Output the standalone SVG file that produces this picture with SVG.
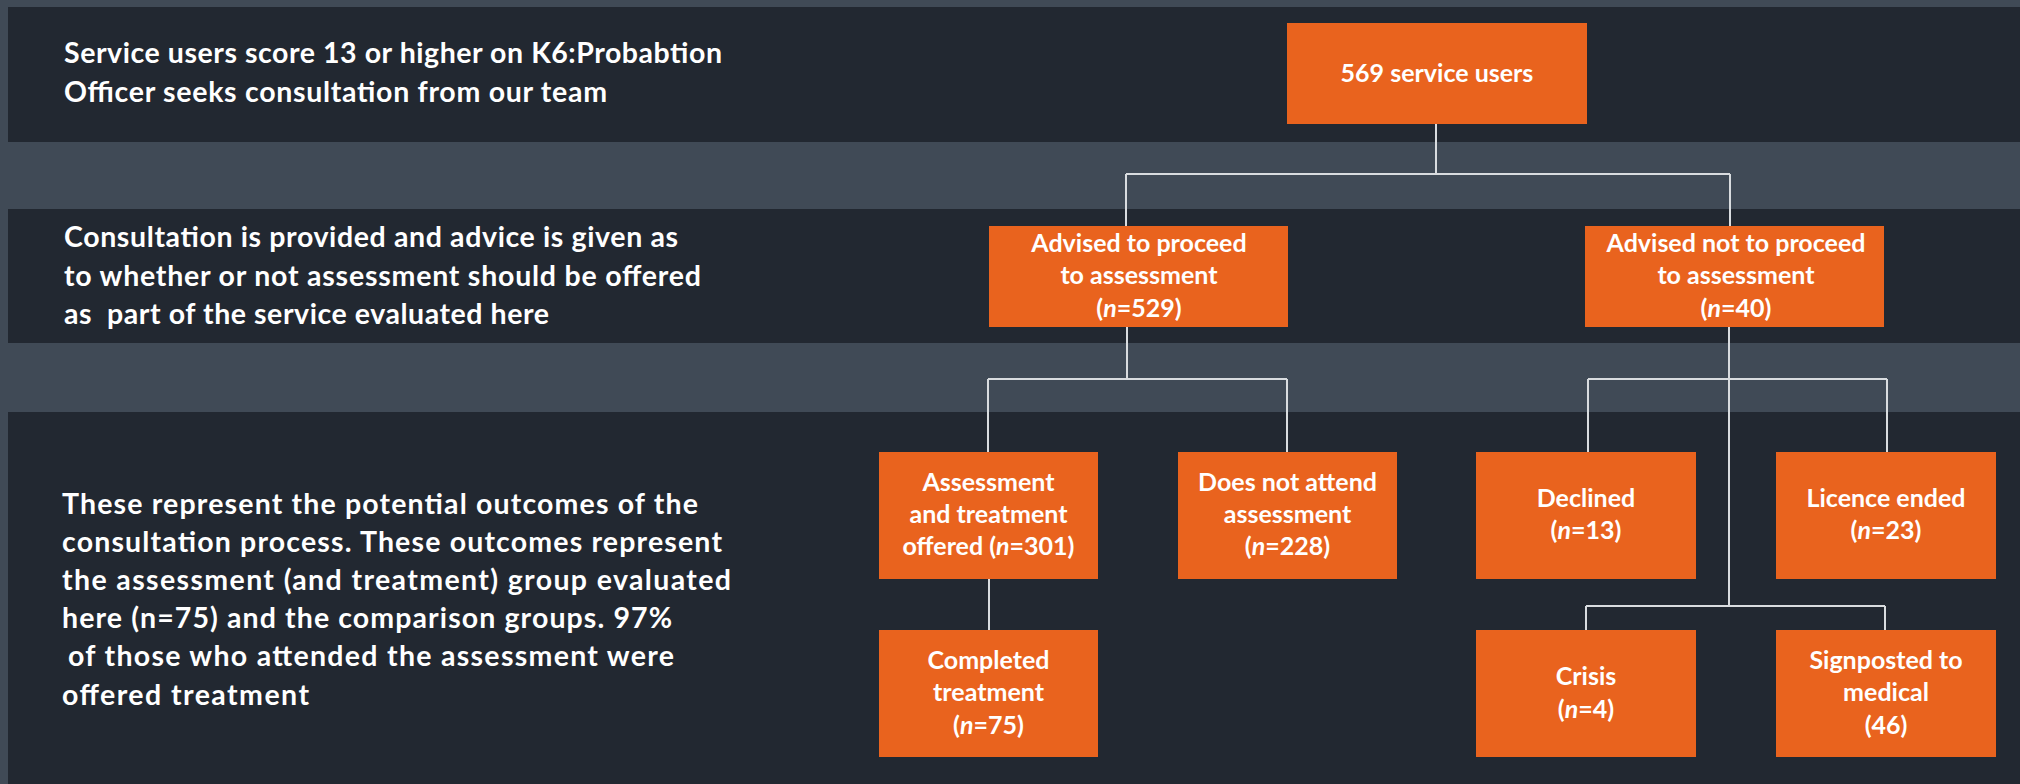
<svg xmlns="http://www.w3.org/2000/svg" width="2020" height="784" viewBox="0 0 2020 784">
<style>
.band{fill:#222831}
.box{fill:#e9631e}
.lt{font-family:Lato,"Open Sans","DejaVu Sans",sans-serif;font-weight:700;font-size:28.5px;fill:#ffffff}
.bt{font-family:Lato,"Open Sans","DejaVu Sans",sans-serif;font-weight:700;font-size:25px;fill:#ffffff;text-anchor:middle}
.it{font-style:italic}
.conn{fill:none;stroke:#d9dcdf;stroke-width:2}
</style>
<rect x="0" y="0" width="2020" height="784" fill="#404a56"/>
<g id="bands">
<rect class="band" x="8" y="7" width="2012" height="135"/>
<rect class="band" x="8" y="209" width="2012" height="134"/>
<rect class="band" x="8" y="412" width="2012" height="372"/>
</g>
<g id="labels">
<text class="lt" x="64" y="63" textLength="658">Service users score 13 or higher on K6:Probabtion</text>
<text class="lt" x="64" y="102" textLength="543">Officer seeks consultation from our team</text>
<text class="lt" x="64" y="247" textLength="614">Consultation is provided and advice is given as</text>
<text class="lt" x="64" y="286" textLength="637">to whether or not assessment should be offered</text>
<text class="lt" x="64" y="324" textLength="485" xml:space="preserve">as  part of the service evaluated here</text>
<text class="lt" x="62" y="514" textLength="636">These represent the potential outcomes of the</text>
<text class="lt" x="62" y="552" textLength="660">consultation process. These outcomes represent</text>
<text class="lt" x="62" y="590" textLength="669">the assessment (and treatment) group evaluated</text>
<text class="lt" x="62" y="628" textLength="610">here (n=75) and the comparison groups. 97%</text>
<text class="lt" x="68" y="666" textLength="606">of those who attended the assessment were</text>
<text class="lt" x="62" y="705" textLength="247">offered treatment</text>
</g>
<g id="connectors">
<path class="conn" d="M1436 124V174M1126 174H1730M1126 174V226M1730 174V226"/>
<path class="conn" d="M1127 327V379M988 379H1287M988 379V452M1287 379V452"/>
<path class="conn" d="M1729 327V606M1588 379H1887M1588 379V452M1887 379V452"/>
<path class="conn" d="M1586 606H1885M1586 606V630M1885 606V630"/>
<path class="conn" d="M989 579V630"/>
</g>
<g id="node-root">
<rect class="box" x="1287" y="23" width="300" height="101"/>
<text class="bt" x="1437" y="82">569 service users</text>
</g>
<g id="node-proceed">
<rect class="box" x="989" y="226" width="299" height="101"/>
<text class="bt" x="1139" y="252">Advised to proceed</text>
<text class="bt" x="1139" y="284">to assessment</text>
<text class="bt" x="1139" y="317">(<tspan class="it">n</tspan>=529)</text>
</g>
<g id="node-notproceed">
<rect class="box" x="1585" y="226" width="299" height="101"/>
<text class="bt" x="1736" y="252">Advised not to proceed</text>
<text class="bt" x="1736" y="284">to assessment</text>
<text class="bt" x="1736" y="317">(<tspan class="it">n</tspan>=40)</text>
</g>
<g id="node-offered">
<rect class="box" x="879" y="452" width="219" height="127"/>
<text class="bt" x="988.5" y="491">Assessment</text>
<text class="bt" x="988.5" y="523">and treatment</text>
<text class="bt" x="988.5" y="555">offered (<tspan class="it">n</tspan>=301)</text>
</g>
<g id="node-dna">
<rect class="box" x="1178" y="452" width="219" height="127"/>
<text class="bt" x="1287.5" y="491">Does not attend</text>
<text class="bt" x="1287.5" y="523">assessment</text>
<text class="bt" x="1287.5" y="555">(<tspan class="it">n</tspan>=228)</text>
</g>
<g id="node-declined">
<rect class="box" x="1476" y="452" width="220" height="127"/>
<text class="bt" x="1586" y="507">Declined</text>
<text class="bt" x="1586" y="539">(<tspan class="it">n</tspan>=13)</text>
</g>
<g id="node-licence">
<rect class="box" x="1776" y="452" width="220" height="127"/>
<text class="bt" x="1886" y="507">Licence ended</text>
<text class="bt" x="1886" y="539">(<tspan class="it">n</tspan>=23)</text>
</g>
<g id="node-completed">
<rect class="box" x="879" y="630" width="219" height="127"/>
<text class="bt" x="988.5" y="669">Completed</text>
<text class="bt" x="988.5" y="701">treatment</text>
<text class="bt" x="988.5" y="734">(<tspan class="it">n</tspan>=75)</text>
</g>
<g id="node-crisis">
<rect class="box" x="1476" y="630" width="220" height="127"/>
<text class="bt" x="1586" y="685">Crisis</text>
<text class="bt" x="1586" y="718">(<tspan class="it">n</tspan>=4)</text>
</g>
<g id="node-signposted">
<rect class="box" x="1776" y="630" width="220" height="127"/>
<text class="bt" x="1886" y="669">Signposted to</text>
<text class="bt" x="1886" y="701">medical</text>
<text class="bt" x="1886" y="734">(46)</text>
</g>
</svg>
